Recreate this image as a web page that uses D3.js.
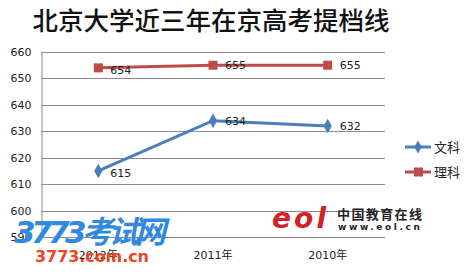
<!DOCTYPE html>
<html>
<head>
<meta charset="utf-8">
<script src="https://cdn.jsdelivr.net/npm/d3@7"></script>
<style>
  body { margin: 0; background: #fff; }
  svg { display: block; }
</style>
</head>
<body>
<svg id="chart"></svg>
<script>
// chart data
const categories = ["2012年", "2011年", "2010年"]
const wenke = [615, 634, 632]
const like = [654, 655, 655]
const yTicks = [590, 600, 610, 620, 630, 640, 650, 660]
const title = "北京大学近三年在京高考提档线"

const width = 466
const height = 278
const svg = d3.select("#chart").attr("width", width).attr("height", height)

const blue = "#4a7ebb"
const red = "#be4b48"
const grid = "#8c8c8c"
const font = "'DejaVu Sans', 'Noto Sans CJK SC', sans-serif"

// Scales
const xScale = d3.scaleBand()
    .domain(categories)
    .range([41, 385])

const yScale = d3.scaleLinear()
    .domain([590, 660])
    .range([237, 52])

// Title
svg.append("text")
    .attr("x", 211)
    .attr("y", 30)
    .attr("text-anchor", "middle")
    .attr("font-family", "'Noto Sans CJK SC', sans-serif")
    .attr("font-size", 25.5)
    .attr("font-weight", 500)
    .attr("fill", "#111")
    .text(title)

// Gridlines
svg.append("g")
    .selectAll("line")
    .data(yTicks)
    .join("line")
    .attr("x1", 41)
    .attr("x2", 385)
    .attr("y1", d => Math.round(yScale(d)) + 0.5)
    .attr("y2", d => Math.round(yScale(d)) + 0.5)
    .attr("stroke", grid)
    .attr("stroke-width", 1)

// Y axis
const yAxis = d3.axisLeft(yScale).tickValues(yTicks).tickSize(0).tickPadding(10)
const yG = svg.append("g").attr("transform", "translate(41.5,0)").call(yAxis)
yG.select(".domain").attr("stroke", grid)
yG.selectAll("text")
    .attr("font-family", font)
    .attr("font-size", 11)
    .attr("fill", "#222")

// X axis labels
const xAxis = d3.axisBottom(xScale).tickSize(0).tickPadding(14)
const xG = svg.append("g").attr("transform", "translate(0,237)").call(xAxis)
xG.select(".domain").remove()
xG.selectAll("text")
    .attr("font-family", font)
    .attr("font-size", 11)
    .attr("fill", "#222")

const cx = d => xScale(d) + xScale.bandwidth() / 2

const line = d3.line()
    .x((d, i) => cx(categories[i]))
    .y(d => yScale(d))

// Series lines
svg.append("path")
    .datum(like)
    .attr("fill", "none")
    .attr("stroke", red)
    .attr("stroke-width", 3)
    .attr("d", line)

svg.append("path")
    .datum(wenke)
    .attr("fill", "none")
    .attr("stroke", blue)
    .attr("stroke-width", 3)
    .attr("d", line)

// Markers
svg.append("g")
    .selectAll("rect")
    .data(like)
    .join("rect")
    .attr("x", (d, i) => cx(categories[i]) - 4.5)
    .attr("y", d => yScale(d) - 4.5)
    .attr("width", 9)
    .attr("height", 9)
    .attr("fill", red)

svg.append("g")
    .selectAll("path")
    .data(wenke)
    .join("path")
    .attr("d", d3.symbol(d3.symbolDiamond, 60))
    .attr("transform", (d, i) => "translate(" + cx(categories[i]) + "," + yScale(d) + ")")
    .attr("fill", blue)

// Data labels
const labels = like.map((v, i) => ({ v: v, i: i }))
    .concat(wenke.map((v, i) => ({ v: v, i: i })))
svg.append("g")
    .selectAll("text")
    .data(labels)
    .join("text")
    .attr("x", d => cx(categories[d.i]) + 12)
    .attr("y", d => yScale(d.v) + 4 + (d.i == 0 ? 2 : 0))
    .attr("font-family", font)
    .attr("font-size", 11)
    .attr("fill", "#222")
    .text(d => d.v)

// Legend
const legend = [["文科", blue, "diamond"], ["理科", red, "square"]]
legend.forEach((l, i) => {
    const y = 147 + i * 25
    svg.append("line")
        .attr("x1", 405).attr("x2", 431)
        .attr("y1", y).attr("y2", y)
        .attr("stroke", l[1]).attr("stroke-width", 3)
    if (l[2] == "square") {
        svg.append("rect")
            .attr("x", 414).attr("y", y - 4.5)
            .attr("width", 9).attr("height", 9)
            .attr("fill", l[1])
    } else {
        svg.append("path")
            .attr("d", d3.symbol(d3.symbolDiamond, 50))
            .attr("transform", "translate(418," + y + ")")
            .attr("fill", l[1])
    }
    svg.append("text")
        .attr("x", 434).attr("y", y + 5)
        .attr("font-family", "'Noto Sans CJK SC', sans-serif")
        .attr("font-size", 13)
        .attr("fill", "#222")
        .text(l[0])
})

// Watermark: 3773考试网
svg.append("text")
    .attr("x", 14).attr("y", 243)
    .attr("font-family", "'DejaVu Sans', 'Noto Sans CJK SC', sans-serif")
    .attr("font-size", 31)
    .attr("font-weight", "bold")
    .attr("font-style", "italic")
    .attr("fill", "#3088e0")
    .attr("textLength", 152)
    .text("3773考试网")
svg.append("text")
    .attr("x", 35).attr("y", 262)
    .attr("font-family", "'DejaVu Sans', sans-serif")
    .attr("font-size", 16)
    .attr("font-weight", "bold")
    .attr("fill", "#ee4422")
    .attr("textLength", 114)
    .text("3773.com.cn")

// Watermark: eol
svg.append("text")
    .attr("x", 272).attr("y", 228)
    .attr("font-family", "'DejaVu Sans', sans-serif")
    .attr("font-size", 28)
    .attr("font-weight", "bold")
    .attr("font-style", "italic")
    .attr("fill", "#d42027")
    .attr("textLength", 54)
    .text("eol")
svg.append("text")
    .attr("x", 337).attr("y", 219)
    .attr("font-family", "'Noto Sans CJK SC', sans-serif")
    .attr("font-size", 13)
    .attr("font-weight", "bold")
    .attr("fill", "#222")
    .attr("textLength", 85)
    .text("中国教育在线")
svg.append("text")
    .attr("x", 338).attr("y", 230)
    .attr("font-family", "'DejaVu Sans', sans-serif")
    .attr("font-size", 9)
    .attr("font-weight", "bold")
    .attr("fill", "#222")
    .attr("textLength", 82)
    .text("www.eol.cn")
</script>
</body>
</html>
